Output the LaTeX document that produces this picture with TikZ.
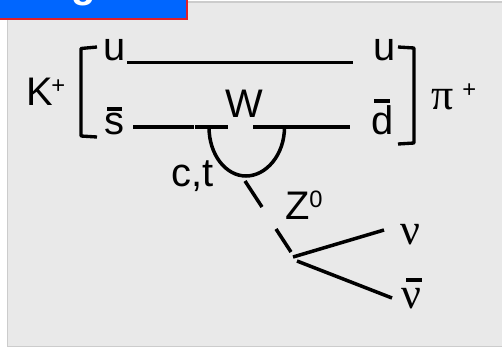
\documentclass[tikz,border=0pt]{standalone}
\usepackage{fontspec}
\setmainfont{Liberation Sans}
\newfontfamily\greekfont{Liberation Serif}
\definecolor{panelgray}{HTML}{E9E9E9}
\definecolor{paneledge}{HTML}{CCCCCC}
\definecolor{tabblue}{HTML}{0066FF}
\definecolor{tabred}{HTML}{E0202A}
\begin{document}
\begin{tikzpicture}[
    x=0.02cm, y=-0.02cm,
    panel/.style={draw=paneledge, line width=0.8pt, fill=panelgray},
    tab/.style={draw=tabred, line width=1.1pt, fill=tabblue},
    quark/.style={line width=2.2pt},
    lepton/.style={line width=2pt},
    bracket/.style={line width=1.9pt, line join=round},
    bar/.style={line width=2.2pt},
    lab/.style={anchor=base west, inner sep=0pt, font=\fontsize{22.7}{24}\selectfont},
    sup/.style={anchor=base west, inner sep=0pt, font=\fontsize{13.5}{15}\selectfont},
    greek/.style={anchor=base west, inner sep=0pt, font=\fontsize{25}{27}\selectfont\greekfont}
]
\useasboundingbox (0,0) rectangle (502,348);

% Background
\draw[panel] (7.5,2) rectangle (515,346.5);
\draw[tab] (-5,-5) rectangle (187,19);
\node[anchor=base, inner sep=0pt, text=white, font=\fontsize{22.7}{24}\selectfont\bfseries] (title) at (83.5,-2) {g};

% Kaon side
\node[lab] (kaon) at (26,105) {K};
\node[sup] (kplus) at (51,93) {+};
\node[lab] (ua) at (103,60) {u};
\node[lab] (sbar) at (104,134) {s};
\coordinate (sbarl) at (107,109);
\coordinate (sbarr) at (122,109);
\draw[bar] (sbarl) -- (sbarr);

% Pion side
\node[lab] (ub) at (373,60) {u};
\node[lab] (dbar) at (371,134) {d};
\coordinate (dbarl) at (374,101);
\coordinate (dbarr) at (390,101);
\draw[bar] (dbarl) -- (dbarr);
\node[greek] (pion) at (431,109) {π};
\node[sup] (pplus) at (462,97) {+};

% Labels in the loop
\node[lab] (wboson) at (225,117) {W};
\node[lab] (ct) at (171,186) {c,t};
\node[lab] (zboson) at (285,219) {Z};
\node[sup] (zzero) at (309,207) {0};
\node[greek] (nu) at (400,244) {ν};
\node[greek] (nubar) at (401,308) {ν};
\coordinate (nubarl) at (406,280);
\coordinate (nubarr) at (422,280);
\draw[bar] (nubarl) -- (nubarr);

% Brackets
\coordinate (bla) at (97,47);
\coordinate (blb) at (81,48.5);
\coordinate (blc) at (81,136);
\coordinate (bld) at (97,137);
\draw[bracket] (bla) -- (blb) -- (blc) -- (bld);
\coordinate (bra) at (398,47);
\coordinate (brb) at (414,48);
\coordinate (brc) at (414,143);
\coordinate (brd) at (398,144);
\draw[bracket] (bra) -- (brb) -- (brc) -- (brd);

% Quark lines
\coordinate (upa) at (127,62.5);
\coordinate (upb) at (353,62.5);
\coordinate (loa) at (133,127);
\coordinate (lob) at (194,127);
\coordinate (loc) at (195.3,127);
\coordinate (lod) at (228,127);
\coordinate (loe) at (253,127);
\coordinate (lof) at (350,127);
\draw[quark] (upa) -- (upb);
\draw[quark] (loa) -- (lob);
\draw[quark] (loc) -- (lod);
\draw[quark] (loe) -- (lof);

% Loop
\coordinate (loopl) at (209,127);
\coordinate (loopb) at (246,176);
\coordinate (loopr) at (284.5,127);
\draw[lepton] (loopl) .. controls (209,155) and (226,176) .. (loopb)
    .. controls (266,176) and (284.5,155) .. (loopr);

% Z and neutrinos
\coordinate (za) at (245,181);
\coordinate (zb) at (262,207);
\coordinate (zc) at (276,229);
\coordinate (zd) at (291,252);
\coordinate (nua) at (293,257);
\coordinate (nub) at (384,230);
\coordinate (nuc) at (297,261);
\coordinate (nud) at (392,298);
\draw[lepton] (za) -- (zb);
\draw[lepton] (zc) -- (zd);
\draw[lepton] (nua) -- (nub);
\draw[lepton] (nuc) -- (nud);
\end{tikzpicture}
\end{document}
